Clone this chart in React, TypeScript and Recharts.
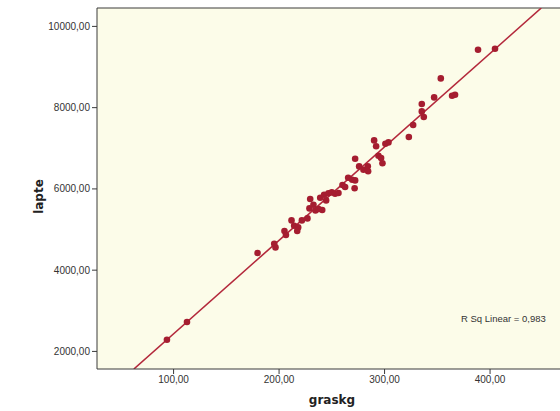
import {
  ScatterChart,
  Scatter,
  XAxis,
  YAxis,
  CartesianGrid,
  ReferenceLine,
} from 'recharts'

const graskg = [
  93.7, 112.7, 179.6, 195.4, 196.6, 205.1, 206.5, 211.8, 214.3, 218.1,
  217.2, 221.6, 226.9, 229.5, 228.8, 232.6, 234.5, 240.9, 239.0, 242.7,
  244.6, 246.8, 250.0, 253.1, 256.3, 260.1, 262.6, 265.5, 269.3, 272.1,
  271.6, 272.1, 275.9, 280.0, 284.1, 284.4, 290.1, 292.0, 294.2, 296.7,
  298.0, 300.8, 303.7, 323.0, 327.1, 335.3, 335.3, 337.2, 347.0, 364.0,
  366.8, 353.3, 388.6, 404.7, 237.5,
]

const lapte = [
  2288, 2724, 4422, 4651, 4560, 4964, 4865, 5225, 5094, 5052,
  4964, 5225, 5274, 5751, 5520, 5611, 5471, 5481, 5783, 5857,
  5717, 5894, 5914, 5882, 5899, 6096, 6047, 6276, 6226, 6209,
  6017, 6743, 6554, 6473, 6559, 6436, 7194, 7051, 6817, 6761,
  6633, 7113, 7145, 7277, 7573, 8090, 7908, 7770, 8252, 8294,
  8319, 8720, 9426, 9451, 5505,
]

const xTicks = [100, 200, 300, 400]
const yTicks = [2000, 4000, 6000, 8000, 10000]
const X_DOMAIN: [number, number] = [27.4, 466.3]
const Y_DOMAIN: [number, number] = [1567, 10453]
const rSqLabel = 'R Sq Linear = 0,983'

const DOT = '#a51d30'
const FIT = '#b3283b'
const AXIS = '#3a3a3a'

const fmt = (v: number) => v.toFixed(2).replace('.', ',')

// least squares fit on the points
function linearFit(xs: number[], ys: number[]) {
  const n = xs.length
  const mx = xs.reduce((s, v) => s + v, 0) / n
  const my = ys.reduce((s, v) => s + v, 0) / n
  let sxy = 0
  let sxx = 0
  for (let i = 0; i < n; i++) {
    sxy += (xs[i] - mx) * (ys[i] - my)
    sxx += (xs[i] - mx) ** 2
  }
  const slope = sxy / sxx
  return { slope, intercept: my - slope * mx }
}

export default function App() {
  const data = graskg.map((x, i) => ({ x, y: lapte[i] }))
  const { slope, intercept } = linearFit(graskg, lapte)
  const fitStart = { x: (Y_DOMAIN[0] - intercept) / slope, y: Y_DOMAIN[0] }
  const fitEnd = { x: (Y_DOMAIN[1] - intercept) / slope, y: Y_DOMAIN[1] }

  const tickStyle = { fontFamily: '"Liberation Sans", Arial, sans-serif', fontSize: 10, fill: '#333' }

  return (
    <div style={{ position: 'relative', width: 560, height: 411, background: '#fff' }}>
      <style>{'body{margin:0}'}</style>
      <ScatterChart width={560} height={411} margin={{ top: 8, right: 0, bottom: 0, left: 0 }}>
        <CartesianGrid horizontal={false} vertical={false} fill="#fcfce9" />
        <XAxis
          type="number"
          dataKey="x"
          domain={X_DOMAIN}
          ticks={xTicks}
          tickFormatter={fmt}
          allowDataOverflow
          height={42}
          tickSize={5}
          tickMargin={2}
          stroke={AXIS}
          tick={tickStyle}
          label={({ viewBox }: any) => (
            <text
              x={332}
              y={viewBox.y + 35}
              textAnchor="middle"
              style={{ fontFamily: '"DejaVu Sans", Verdana, sans-serif', fontSize: 12, fontWeight: 'bold', fill: '#222' }}
            >
              graskg
            </text>
          )}
        />
        <YAxis
          type="number"
          dataKey="y"
          domain={Y_DOMAIN}
          ticks={yTicks}
          tickFormatter={fmt}
          allowDataOverflow
          width={97}
          tickSize={5}
          tickMargin={2}
          stroke={AXIS}
          tick={tickStyle}
          label={({ viewBox }: any) => {
            const cx = 43
            const cy = viewBox.y + viewBox.height / 2 + 8
            return (
              <text
                x={cx}
                y={cy}
                textAnchor="middle"
                transform={`rotate(-90 ${cx} ${cy})`}
                style={{ fontFamily: '"DejaVu Sans", Verdana, sans-serif', fontSize: 12, fontWeight: 'bold', fill: '#222' }}
              >
                lapte
              </text>
            )
          }}
        />
        <ReferenceLine y={Y_DOMAIN[1]} stroke={AXIS} strokeWidth={1} />
        <ReferenceLine segment={[fitStart, fitEnd]} stroke={FIT} strokeWidth={1.6} ifOverflow="hidden" />
        <Scatter
          data={data}
          isAnimationActive={false}
          shape={(p: any) => <circle cx={p.cx} cy={p.cy} r={3.3} fill={DOT} />}
        />
      </ScatterChart>
      <div
        style={{
          position: 'absolute',
          left: 461,
          top: 313,
          fontFamily: '"Liberation Sans", Arial, sans-serif',
          fontSize: 9.5,
          color: '#333',
          whiteSpace: 'nowrap',
        }}
      >
        {rSqLabel}
      </div>
    </div>
  )
}
